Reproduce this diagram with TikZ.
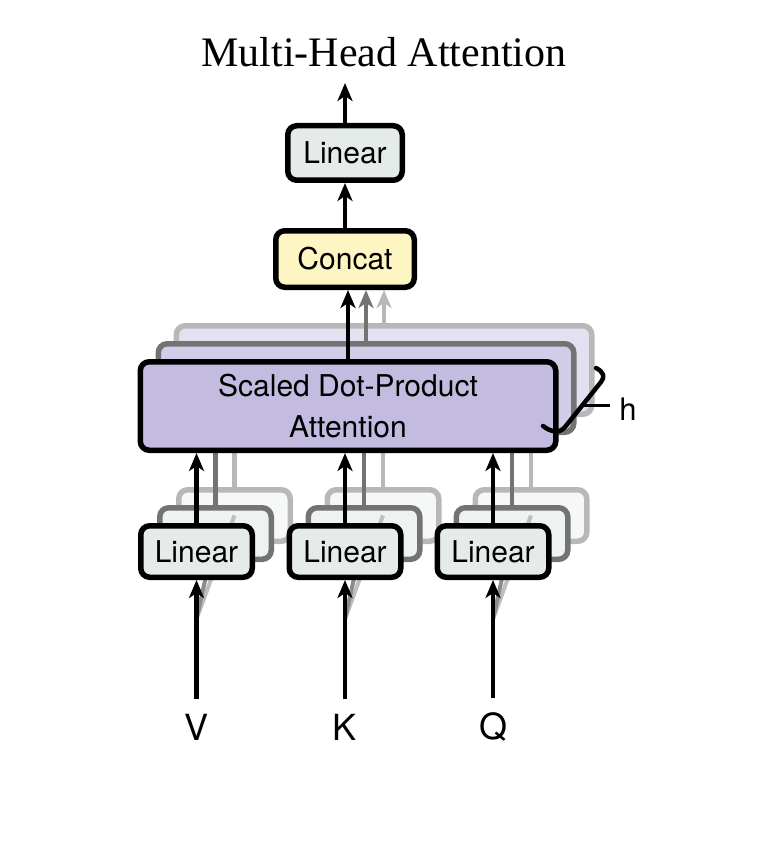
\documentclass[tikz,border=0pt]{standalone}
\usepackage{fontspec}
\setmainfont{Liberation Serif}
\setsansfont{TeX Gyre Heros}
\usetikzlibrary{arrows.meta,positioning}
\definecolor{linfill}{HTML}{E5EBE9}
\definecolor{linfilltwo}{HTML}{EEF2F0}
\definecolor{linfillthree}{HTML}{F6F8F7}
\definecolor{catfill}{HTML}{FDF6C2}
\definecolor{attfill}{HTML}{C4BCE0}
\definecolor{attfilltwo}{HTML}{D2CCE8}
\definecolor{attfillthree}{HTML}{E4E0F1}

\begin{document}
\begin{tikzpicture}[x=1pt,y=-1pt,on grid,>={Stealth[length=18pt,width=15pt,inset=5pt]},
    blk/.style={draw,line width=5.5pt,rounded corners=9pt,inner sep=0pt,
        font=\sffamily\fontsize{30}{41}\selectfont},
    lin/.style={blk,fill=linfill,minimum width=111.5pt,minimum height=51.5pt},
    lintwo/.style={lin,draw=black!55,fill=linfilltwo},
    linthree/.style={lin,draw=black!28,fill=linfillthree},
    att/.style={blk,fill=attfill,minimum width=415.5pt,minimum height=88.5pt,align=center},
    atttwo/.style={att,draw=black!55,fill=attfilltwo},
    attthree/.style={att,draw=black!28,fill=attfillthree},
    arr/.style={->,line width=4.5pt},
    line/.style={line width=4.5pt},
    lbl/.style={font=\sffamily\fontsize{36}{36}\selectfont,inner sep=0pt,outer sep=15pt}]
    \useasboundingbox (0,0) rectangle (758,850);

    \node[font=\fontsize{42}{42}\selectfont] (title) at (384,52) {Multi-Head Attention};

    % inputs
    \node[lbl] (vl) at (196.5,727) {V};
    \node[lbl] (kl) [right=148.5pt of vl] {K};
    \node[lbl] (ql) [right=148pt of kl] {Q};
    \coordinate[above=108pt of vl] (vf);
    \coordinate[above=108pt of kl] (kf);
    \coordinate[above=108pt of ql] (qf);

    % the h heads, back to front
    \node[attthree] (att3) at (384,370) {};
    \node[atttwo] (att2) [below left=18pt and 18pt of att3] {};

    \node[linthree] (v3) at (234.5,515.5) {};
    \node[lintwo] (v2) [below left=18pt and 19pt of v3] {};
    \node[linthree] (k3) [right=148.5pt of v3] {};
    \node[lintwo] (k2) [below left=18pt and 19pt of k3] {};
    \node[linthree] (q3) [right=148pt of k3] {};
    \node[lintwo] (q2) [below left=18pt and 19pt of q3] {};

    \draw[line,black!28] (v3.north) -- (v3.north |- att2.center);
    \draw[line,black!55] (v2.north) -- (v2.north |- att2.center);
    \draw[line,black!28] (k3.north) -- (k3.north |- att2.center);
    \draw[line,black!55] (k2.north) -- (k2.north |- att2.center);
    \draw[line,black!28] (q3.north) -- (q3.north |- att2.center);
    \draw[line,black!55] (q2.north) -- (q2.north |- att2.center);
    \draw[line width=4pt,black!25] (vf) -- (v3.center) (kf) -- (k3.center) (qf) -- (q3.center);
    \draw[line width=4pt,black!45] (vf) -- (v2.center) (kf) -- (k2.center) (qf) -- (q2.center);

    \node[att] (att) [below left=18pt and 18pt of att2] {Scaled Dot-Product\\Attention};
    \node[lin] (v) [below left=18pt and 19pt of v2] {Linear};
    \node[lin] (k) [below left=18pt and 19pt of k2] {Linear};
    \node[lin] (q) [below left=18pt and 19pt of q2] {Linear};

    % output side
    \node[blk,fill=catfill,minimum width=138.5pt,minimum height=56.5pt] (cc) at (345,259) {Concat};
    \node[lin,minimum width=114.5pt,minimum height=54.5pt] (lo) [above=106pt of cc] {Linear};
    \coordinate[above=70pt of lo] (out);

    \path[arr]
        (vl) edge (v)
        (kl) edge (k)
        (ql) edge (q)
        (v) edge (v |- att.south)
        (k) edge (k |- att.south)
        (q) edge (q |- att.south)
        (att.north) edge (att.north |- cc.south)
        (cc) edge (lo)
        (lo) edge (out)
    ;
    \draw[arr,black!55] (att2.north) -- (att2.north |- cc.south);
    \draw[arr,black!28] (att3.north) -- (att3.north |- cc.south);

    % brace for h
    \draw[line,line cap=round,line join=round] (596,368) .. controls (604,372) and (605,377) .. (601,382)
        -- (565,427) .. controls (559,434) and (551,432) .. (543,426);
    \node[font=\sffamily\fontsize{31}{31}\selectfont,inner sep=0pt,outer sep=9pt] (h) at (628,409) {h};
    \coordinate (hb) at (583,405);
    \draw[line width=3pt] (hb) -- (hb -| h.west);
\end{tikzpicture}
\end{document}
